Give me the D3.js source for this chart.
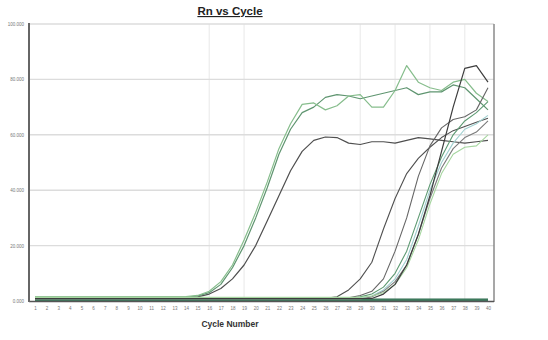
<!DOCTYPE html>
<html>
<head>
<meta charset="utf-8">
<title>Rn vs Cycle</title>
<script src="https://cdn.jsdelivr.net/npm/d3@7"></script>
<style>
    html, body { margin: 0; padding: 0; background: #fff; }
    svg { display: block; font-family: "Liberation Sans", Arial, sans-serif; }
</style>
</head>
<body>
<svg id="chart" width="548" height="340"></svg>
<script>
// chart data
var cycles = [1, 2, 3, 4, 5, 6, 7, 8, 9, 10, 11, 12, 13, 14, 15, 16, 17, 18, 19, 20,
    21, 22, 23, 24, 25, 26, 27, 28, 29, 30, 31, 32, 33, 34, 35, 36, 37, 38, 39, 40];

var yTickValues = [0, 20000, 40000, 60000, 80000, 100000];
var yTickLabels = ['0.000', '20.000', '40.000', '60.000', '80.000', '100.000'];
var xGridCycles = [16, 19, 29, 32, 35, 38];

// early amplifying wells
var early1 = [1500, 1500, 1500, 1500, 1500, 1500, 1500, 1500, 1500, 1500, 1500, 1500, 1500, 1600,
    2000, 3500, 7000, 13000, 22000, 32000, 43000, 55000, 64000, 71000,
    71500, 69000, 70500, 74000, 74500, 70000, 70000, 76000, 85000, 79000,
    77000, 76000, 79000, 80000, 75000, 72000];
var early2 = [1400, 1400, 1400, 1400, 1400, 1400, 1400, 1400, 1400, 1400, 1400, 1400, 1400, 1400,
    1800, 3000, 6000, 12000, 20000, 30000, 41000, 53000, 62000, 68000,
    70000, 73500, 74500, 74000, 73000, 74000, 75000, 76000, 77000, 74500,
    75500, 75500, 78000, 77000, 73000, 69000];
var early3 = [1100, 1100, 1100, 1100, 1100, 1100, 1100, 1100, 1100, 1100, 1100, 1100, 1100, 1100,
    1500, 2500, 4500, 8000, 13000, 20000, 29000, 38000, 47000, 54000,
    58000, 59200, 59000, 57000, 56500, 57500, 57500, 57000, 58000, 59000,
    58500, 58000, 57500, 57000, 57500, 58000];

// late amplifying wells
var late1 = [1000, 1000, 1000, 1000, 1000, 1000, 1000, 1000, 1000, 1000, 1000, 1000, 1000,
    1000, 1000, 1000, 1000, 1000, 1000, 1000, 1000, 1000, 1000, 1000, 1000, 1000,
    1500, 4000, 8000, 14000, 26000, 37000, 46000, 51500, 55500, 59000, 61500, 63000, 64500, 66000];
var late2 = [900, 900, 900, 900, 900, 900, 900, 900, 900, 900, 900, 900, 900, 900, 900,
    900, 900, 900, 900, 900, 900, 900, 900, 900, 900, 900, 900, 900, 900, 900,
    2500, 6000, 13000, 24000, 38000, 54000, 70000, 84000, 85000, 79000];
var late3 = [1200, 1200, 1200, 1200, 1200, 1200, 1200, 1200, 1200, 1200, 1200, 1200, 1200, 1200,
    1200, 1200, 1200, 1200, 1200, 1200, 1200, 1200, 1200, 1200, 1200, 1200, 1200, 1200,
    2000, 3500, 8000, 18000, 30000, 45000, 56000, 62500, 65500, 66500, 69000, 77000];
var late4 = [800, 800, 800, 800, 800, 800, 800, 800, 800, 800, 800, 800, 800, 800,
    800, 800, 800, 800, 800, 800, 800, 800, 800, 800, 800, 800, 800, 800,
    1500, 2500, 5000, 10000, 18000, 30000, 42000, 52000, 60000, 65000, 68000, 72000];
var late5 = [1000, 1000, 1000, 1000, 1000, 1000, 1000, 1000, 1000, 1000, 1000, 1000, 1000, 1000, 1000,
    1000, 1000, 1000, 1000, 1000, 1000, 1000, 1000, 1000, 1000, 1000, 1000, 1000, 1000,
    1800, 4000, 8000, 15000, 27000, 40000, 50000, 57000, 62000, 64000, 67000];
var late6 = [700, 700, 700, 700, 700, 700, 700, 700, 700, 700, 700, 700, 700, 700, 700,
    700, 700, 700, 700, 700, 700, 700, 700, 700, 700, 700, 700, 700, 700,
    1500, 3500, 7000, 13000, 24000, 37000, 48000, 55000, 59000, 61000, 65000];
var late7 = [1300, 1300, 1300, 1300, 1300, 1300, 1300, 1300, 1300, 1300, 1300, 1300, 1300, 1300, 1300,
    1300, 1300, 1300, 1300, 1300, 1300, 1300, 1300, 1300, 1300, 1300, 1300, 1300, 1300,
    1800, 3000, 6000, 12000, 22000, 35000, 46000, 53000, 55500, 56000, 60000];

// flat wells that stay on the baseline
var flat1 = [500, 500, 500, 500, 500, 500, 500, 500, 500, 500, 500, 500, 500, 500, 500, 500, 500, 500, 500, 500,
    500, 500, 500, 500, 500, 500, 500, 500, 500, 500, 500, 500, 500, 500, 500, 500, 500, 500, 500, 500];
var flat2 = [250, 250, 250, 250, 250, 250, 250, 250, 250, 250, 250, 250, 250, 250, 250, 250, 250, 250, 250, 250,
    250, 250, 250, 250, 250, 250, 250, 250, 250, 250, 250, 250, 250, 250, 250, 250, 250, 250, 250, 250];

(function (d3) {
    'use strict';

    var PLOT_LEFT   = 29,
        PLOT_RIGHT  = 494,
        PLOT_TOP    = 24,
        PLOT_BOTTOM = 301;

    var series = [
        { values: flat1, color: '#2f6b4f', width: 2.4 },
        { values: flat2, color: '#3c7a5c', width: 2.4 },
        { values: early3, color: '#4f4f4f', width: 1.2 },
        { values: early2, color: '#5f9570', width: 1.2 },
        { values: early1, color: '#86bd8c', width: 1.2 },
        { values: late1, color: '#505050', width: 1.1 },
        { values: late3, color: '#666666', width: 1.1 },
        { values: late4, color: '#5d9a72', width: 1.1 },
        { values: late5, color: '#9fcfcf', width: 1.1 },
        { values: late6, color: '#7a7a7a', width: 1.1 },
        { values: late7, color: '#a6d6a0', width: 1.1 },
        { values: late2, color: '#3d3d3d', width: 1.2 }
    ];

    var svg = d3.select('#chart');

    var x = d3.scaleLinear().domain([1, 40]).range([35, 488]);
    var y = d3.scaleLinear().domain([0, 100000]).range([PLOT_BOTTOM, PLOT_TOP]);

    /**
     * grid lines
     */
    svg.append('g')
        .selectAll('line')
        .data(xGridCycles)
        .join('line')
        .attr('x1', function (d) { return x(d); })
        .attr('x2', function (d) { return x(d); })
        .attr('y1', PLOT_TOP)
        .attr('y2', PLOT_BOTTOM)
        .attr('stroke', '#ececec')
        .attr('stroke-width', 1.2);

    svg.append('g')
        .selectAll('line')
        .data(yTickValues.slice(1))
        .join('line')
        .attr('x1', PLOT_LEFT)
        .attr('x2', PLOT_RIGHT)
        .attr('y1', function (d) { return y(d); })
        .attr('y2', function (d) { return y(d); })
        .attr('stroke', '#dcdcdc')
        .attr('stroke-width', 1.4);

    /**
     * axes (labels only, the frame is drawn by hand below)
     */
    var yAxis = d3.axisLeft(y)
        .tickValues(yTickValues)
        .tickSize(0)
        .tickPadding(5)
        .tickFormat(function (d, i) { return yTickLabels[i]; });

    svg.append('g')
        .attr('transform', 'translate(' + PLOT_LEFT + ',0)')
        .call(yAxis)
        .call(function (g) {
            g.select('.domain').remove();
            g.selectAll('text')
                .attr('fill', '#777')
                .style('font-size', '4.5px');
        });

    var xAxis = d3.axisBottom(x)
        .tickValues(cycles)
        .tickSize(0)
        .tickPadding(6);

    svg.append('g')
        .attr('transform', 'translate(0,' + PLOT_BOTTOM + ')')
        .call(xAxis)
        .call(function (g) {
            g.select('.domain').remove();
            g.selectAll('text')
                .attr('fill', '#777')
                .style('font-size', '4.5px');
        });

    /**
     * the curves
     */
    var line = d3.line()
        .x(function (d, i) { return x(cycles[i]); })
        .y(function (d) { return y(d); });

    svg.append('g')
        .selectAll('path')
        .data(series)
        .join('path')
        .attr('d', function (s) { return line(s.values); })
        .attr('fill', 'none')
        .attr('stroke', function (s) { return s.color; })
        .attr('stroke-width', function (s) { return s.width; })
        .attr('stroke-linejoin', 'round');

    /**
     * frame
     */
    svg.append('line')
        .attr('x1', PLOT_RIGHT).attr('x2', PLOT_RIGHT)
        .attr('y1', PLOT_TOP).attr('y2', PLOT_BOTTOM + 1)
        .attr('stroke', '#8a8a8a')
        .attr('stroke-width', 1.5);
    svg.append('line')
        .attr('x1', PLOT_LEFT).attr('x2', PLOT_RIGHT)
        .attr('y1', PLOT_BOTTOM + 0.5).attr('y2', PLOT_BOTTOM + 0.5)
        .attr('stroke', '#555')
        .attr('stroke-width', 1.6);
    svg.append('line')
        .attr('x1', PLOT_LEFT).attr('x2', PLOT_LEFT)
        .attr('y1', PLOT_TOP - 1).attr('y2', PLOT_BOTTOM + 1)
        .attr('stroke', '#666')
        .attr('stroke-width', 2);

    /**
     * titles
     */
    svg.append('text')
        .attr('x', 230)
        .attr('y', 15)
        .attr('text-anchor', 'middle')
        .attr('fill', '#222')
        .attr('text-decoration', 'underline')
        .style('font-size', '11.5px')
        .style('font-weight', 'bold')
        .text('Rn vs Cycle');

    svg.append('text')
        .attr('x', 230)
        .attr('y', 327)
        .attr('text-anchor', 'middle')
        .attr('fill', '#333')
        .style('font-size', '8.5px')
        .style('font-weight', 'bold')
        .text('Cycle Number');

})(d3);
</script>
</body>
</html>
